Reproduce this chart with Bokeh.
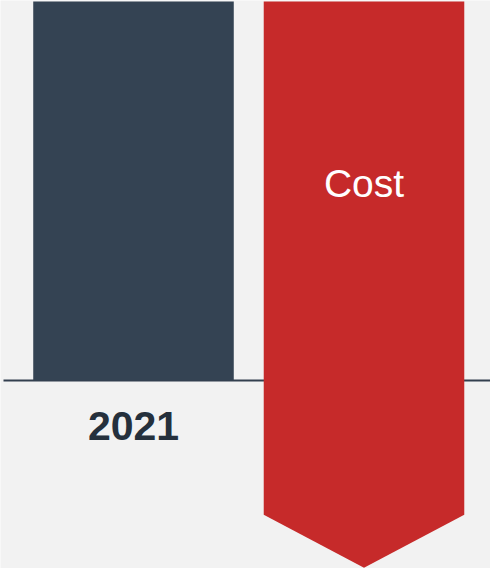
from bokeh.plotting import figure
from bokeh.models import Range1d
from bokeh.embed import file_html
from bokeh.resources import INLINE
from bokeh.core.properties import value

# ---- data ----
categories = ["2021", "Cost"]
start_value = [100.0]          # 2021 bar value
cost_delta = [-135.4]          # Cost change (negative)
label_2021 = ["2021"]
label_cost = ["Cost"]

# ---- style ----
BG = "#f2f2f2"
DARK = "#344353"
RED = "#c62a2a"
AXIS = "#333f4f"
BAR_W = 0.87
HEAD_DEPTH = 14.0   # arrow head depth in value units

W, H = 490, 568
px_per_cat = 230.5
x0 = -133 / px_per_cat
x1 = x0 + W / px_per_cat
px_per_unit = 379 / start_value[0]
y_top = start_value[0] + 1 / px_per_unit
y_bot = -(H - 380) / px_per_unit

p = figure(width=W, height=H, output_backend="svg", toolbar_location=None,
           x_range=Range1d(x0, x1), y_range=Range1d(y_bot, y_top),
           min_border=0, outline_line_color=None,
           background_fill_color=BG, border_fill_color=BG)
p.axis.visible = False
p.grid.visible = False

# baseline (drawn first, behind bars)
p.segment(x0=[x0 + 3 / px_per_cat], x1=[x1], y0=[0], y1=[0],
          line_color=AXIS, line_width=2)

# 2021 bar
p.vbar(x=[0], top=start_value, bottom=[0], width=BAR_W,
       fill_color=DARK, line_color=None)

# Cost arrow bar
top = start_value[0]
end = start_value[0] + cost_delta[0]
xl, xr = 1 - BAR_W / 2, 1 + BAR_W / 2
p.patch(x=[xl, xr, xr, 1, xl], y=[top, top, end, end - HEAD_DEPTH, end],
        fill_color=RED, line_color=None)

# labels
p.text(x=[0], y=[0], text=label_2021, y_offset=45,
       text_font=value("Liberation Sans"), text_font_style="bold",
       text_font_size="41px", text_color="#25303c",
       text_align="center", text_baseline="middle")
p.text(x=[1], y=[top], text=label_cost, y_offset=182,
       text_font=value("Liberation Sans"), text_font_size="39px",
       text_color="white", text_align="center", text_baseline="middle")

html = file_html(p, INLINE)
html = html.replace("<body>", '<body style="background:%s">' % BG, 1)
open("out.html", "w").write(html)
